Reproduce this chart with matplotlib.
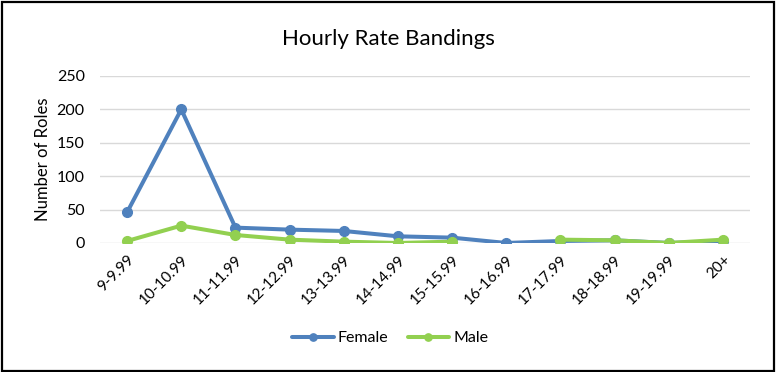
import matplotlib.pyplot as plt
import numpy as np
from matplotlib.patches import Rectangle

bands = ["9-9.99", "10-10.99", "11-11.99", "12-12.99", "13-13.99", "14-14.99",
         "15-15.99", "16-16.99", "17-17.99", "18-18.99", "19-19.99", "20+"]
female = [46, 200, 23, 20, 18, 10, 8, 0, 3, 4, 0, 2.5]
male = [3, 26, 12, 5, 2, 0, 2, np.nan, 5, 4, 0, 5]

plt.rcParams['font.family'] = ['Lato', 'DejaVu Sans']

fig = plt.figure(figsize=(7.76, 3.72), dpi=100)
ax = fig.add_axes([0.1289, 0.3468, 0.8376, 0.4489])

x = np.arange(len(bands))
ax.plot(x, female, color="#4F81BD", lw=2.9, marker="o", ms=7, label="Female",
        solid_capstyle="round")
ax.plot(x, male, color="#92D050", lw=2.9, marker="o", ms=7, label="Male",
        solid_capstyle="round")

ax.set_xlim(-0.5, len(bands) - 0.5)
ax.set_ylim(0, 250)
ax.set_yticks(range(0, 251, 50))
ax.set_xticks(x)
ax.set_xticklabels(bands, rotation=45, ha="right", rotation_mode="anchor", fontsize=11)
ax.tick_params(axis="y", labelsize=11.5, length=0, pad=11)
ax.tick_params(axis="x", length=0, pad=7)
ax.grid(axis="y", color="#D9D9D9", lw=1)
ax.set_axisbelow(True)
for s in ax.spines.values():
    s.set_visible(False)

ax.set_ylabel("Number of Roles", fontsize=12, labelpad=4)
fig.text(0.5, 0.895, "Hourly Rate Bandings", ha="center", va="center", fontsize=16)

fig.legend(loc="center", bbox_to_anchor=(0.503, 0.091), ncol=2, frameon=False,
           fontsize=11.5, handlelength=2.6, columnspacing=1.2, handletextpad=0.25,
           markerscale=0.75)

fig.patches.append(Rectangle((0.002, 0.003), 0.995, 0.992, transform=fig.transFigure,
                             fill=False, ec="black", lw=1.6))

fig.savefig("out.png", dpi=100)
